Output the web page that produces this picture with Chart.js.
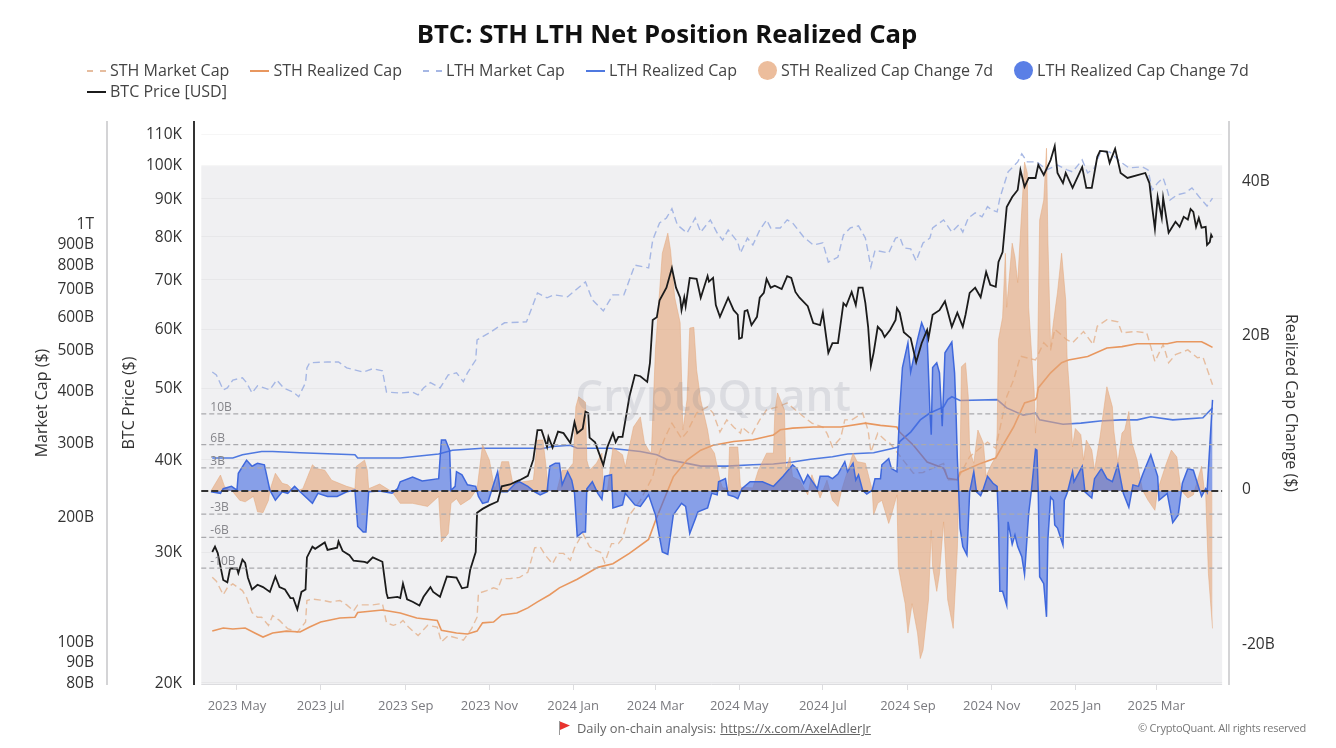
<!DOCTYPE html>
<html>
<head>
<meta charset="utf-8">
<title>BTC: STH LTH Net Position Realized Cap</title>
<script src="https://cdn.jsdelivr.net/npm/chart.js@4"></script>
<style>
  html, body { margin: 0; padding: 0; background: #fff; }
  body { width: 1336px; height: 748px; position: relative; overflow: hidden; font-family: "Open Sans", sans-serif; }
  canvas { position: absolute; left: 0; top: 0; }
  #title { position: absolute; top: 14px; left: 0; width: 1334px; text-align: center; font-size: 25.7px; font-weight: 700; color: #111; line-height: 40px; }
  #legend { position: absolute; left: 87px; top: 60px; width: 1180px; display: flex; flex-wrap: wrap; column-gap: 21px; row-gap: 0; font-size: 16px; color: #444; line-height: 21px; }
  .item { display: flex; align-items: center; white-space: nowrap; }
  .swatch { width: 19px; height: 0; border-top: 2px solid; margin-right: 4px; }
  .dot { width: 19px; height: 19px; border-radius: 50%; margin-right: 4px; }
  #source { position: absolute; top: 718px; left: 558px; font-size: 12.9px; color: #666; line-height: 20px; white-space: nowrap; display: flex; align-items: center; }
  #source a { color: #666; margin-left: 4px; }
  #source svg { margin-right: 7px; }
  #copy { position: absolute; top: 719px; right: 30px; font-size: 11px; color: #777; letter-spacing: -0.25px; line-height: 18px; }
</style>
</head>
<body>
<canvas id="chart" width="1336" height="748"></canvas>
<div id="title">BTC: STH LTH Net Position Realized Cap</div>
<div id="legend"></div>
<div id="source"><svg width="12" height="14" viewBox="0 0 12 14"><path d="M1 0h1v14H1z" fill="#999"/><path d="M2 0.5 12 4.5 2 9z" fill="#e8332e"/></svg>Daily on-chain analysis: <a href="https://x.com/AxelAdlerJr">https://x.com/AxelAdlerJr</a></div>
<div id="copy">© CryptoQuant. All rights reserved</div>
<script>
'use strict';

// x values are days since 2023-05-01
const xTickDays = [0, 61, 123, 184, 245, 305, 366, 427, 489, 550, 611, 670];
const xTickLabels = ['2023 May', '2023 Jul', '2023 Sep', '2023 Nov', '2024 Jan', '2024 Mar', '2024 May', '2024 Jul', '2024 Sep', '2024 Nov', '2025 Jan', '2025 Mar'];

// left axes are in billions and thousands, right axis in billions
const marketTicks = [80, 90, 100, 200, 300, 400, 500, 600, 700, 800, 900, 1000];
const marketTickLabels = ['80B', '90B', '100B', '200B', '300B', '400B', '500B', '600B', '700B', '800B', '900B', '1T'];
const priceTicks = [20, 30, 40, 50, 60, 70, 80, 90, 100, 110];
const priceTickLabels = ['20K', '30K', '40K', '50K', '60K', '70K', '80K', '90K', '100K', '110K'];
const changeTicks = [-20, 0, 20, 40];
const changeTickLabels = ['-20B', '0', '20B', '40B'];

const refLevels = [10, 6, 3, -3, -6, -10];
const refLabels = ['10B', '6B', '3B', '-3B', '-6B', '-10B'];

const priceDays = [-18,-16,-14,-10,-7,-5,0,1,4,6,8,11,15,19,24,28,31,35,39,41,44,47,50,51,55,57,64,66,73,74,77,82,85,93,95,99,106,109,110,117,119,121,124,128,133,136,141,143,148,153,160,164,168,170,174,175,179,184,190,193,199,203,206,212,216,219,222,226,227,230,234,238,243,246,248,252,254,256,257,261,263,267,270,274,276,278,281,284,286,290,294,299,301,303,306,308,313,317,320,323,324,326,327,330,335,338,343,344,347,349,352,358,362,365,366,368,370,372,375,379,381,384,386,389,392,397,401,404,407,410,416,420,425,427,431,434,438,442,444,448,451,453,456,458,460,462,464,467,470,472,476,480,481,483,486,491,495,499,503,504,507,512,516,521,525,529,531,534,538,542,546,549,553,555,558,561,565,569,571,574,577,582,584,588,593,596,598,602,604,609,616,619,623,627,629,634,636,640,644,649,657,662,665,667,669,671,674,675,679,684,687,690,693,695,697,699,701,703,706,707,709,710,711];
const priceValues = [30,30.5,29.9,27.5,27.3,28.5,28.5,28.1,29.3,29,27.7,26.7,27.1,26.9,26.5,27.8,26.9,26.7,26,26,25.1,26.5,26.7,29.5,30.5,30.3,30.9,30.2,30.4,31,30.1,29.7,29.2,29.1,29,29.5,29.1,26.4,26,26.1,26,27.2,25.9,25.7,25.4,26.1,26.9,26.5,26.1,27.8,27.7,26.8,26.9,28.4,30,33.9,34.3,34.7,35.1,36.8,37,37.3,37.5,38,40,43.8,43.8,41.6,42.9,41.5,43.6,43.4,42.1,44.9,43.4,44,46.4,46.2,42.8,42.2,41.2,39.3,41.6,43.4,42.2,42.9,42.9,46.2,48.6,52,51.8,50.9,54,61.7,62.2,65.6,68.2,72.5,68.2,66.1,63.6,66.2,64.4,70.3,70.1,66.1,70.7,69.5,70.3,64.6,62.3,66.1,63.6,62.7,58.2,58.4,63.4,63.6,60.7,62.3,66.1,67.1,70.1,68.2,68.6,67.9,70.7,70.3,67.3,66.1,64.4,61.1,60.7,63.1,55.7,57.4,57.4,65,64.4,67.3,64.6,68.2,68.2,65,60.4,53.5,55.7,60.4,59.6,58.5,59.8,61.7,64,63.1,59.4,58.3,54.1,57.4,59.8,58.3,62.7,63.6,65.4,60.4,63.1,60.4,62.7,67.1,68.2,66.2,71.6,68.8,68.4,73.9,76.2,87.6,90.4,92.4,98.3,93.3,95.9,95.9,99.9,96.8,101.4,105.9,97.4,94.4,97.4,93,99.2,93,93,102.4,104.3,104.1,100.5,105,97.4,95.9,96.8,97.4,94.4,87.6,81.9,90.4,84.7,90.2,80.9,83.7,82.4,85,84.3,87.1,86.3,82.4,84.7,82.2,82.4,77.9,78.6,80.4,79.7];

const lthMarketDays = [-18,-15,-10,-7,-3,4,7,11,15,24,29,34,41,45,50,51,53,66,74,80,92,99,106,109,119,128,132,136,141,148,154,160,165,168,174,175,184,195,211,219,226,231,241,254,259,267,274,282,290,300,303,305,308,313,317,321,328,334,338,345,350,354,358,365,367,372,376,381,386,389,396,401,405,413,420,427,431,438,442,447,453,458,462,465,475,480,483,486,491,495,500,505,507,515,521,526,529,533,538,543,547,550,554,556,562,569,572,576,583,590,598,605,609,616,620,625,629,636,644,650,660,664,667,671,675,678,680,685,691,696,702,707,711];
const lthMarketValues = [440,433,399,403,421,426,415,392,408,399,421,403,394,384,415,450,463,465,465,450,440,448,443,394,392,394,388,403,415,403,433,438,417,438,470,525,546,577,580,680,662,673,666,723,655,616,673,673,793,781,910,946,1000,1028,1082,989,946,1028,951,1017,946,910,962,900,848,920,886,962,1017,973,973,1017,1000,926,886,896,806,829,936,973,984,920,785,860,848,920,926,872,867,811,896,920,973,1017,951,989,951,1028,1057,1034,1094,1075,1063,1147,1325,1400,1463,1400,1400,1340,1376,1340,1325,1415,1317,1355,1471,1479,1400,1355,1362,1340,1198,1247,1282,1198,1134,1167,1180,1213,1147,1098,1147];

const sthMarketDays = [-18,-15,-10,-7,-3,4,7,11,15,18,23,26,31,37,44,50,51,55,63,68,75,80,85,88,99,106,109,114,119,121,125,132,139,146,149,154,165,171,175,176,182,187,190,193,199,206,212,217,221,225,230,234,238,243,246,252,257,261,265,268,273,278,281,286,294,303,306,312,317,324,328,335,343,347,352,357,362,367,368,375,381,386,394,401,407,413,419,427,430,434,440,443,448,456,460,462,467,474,476,493,500,515,518,525,534,547,553,561,566,571,582,588,593,596,605,609,617,624,627,634,642,645,655,663,666,669,675,679,684,693,700,704,708,711];
const sthMarketValues = [142,139,129,134,137,132,127,117,114,114,109,115,112,107,105,111,125,126,125,124,125,122,118,122,122,123,110.5,109,110.5,112,108,103,109,108,99.5,103,100.5,107,114,130,132,134,133,141,141,142,146,167,168,160,153,162,162,156,167,181,168,165,163,154,171,171,176,200,217,247,271,307,332,305,316,351,363,351,316,338,325,314,325,311,338,357,363,371,357,344,332,325,314,291,306,338,338,351,319,283,314,299,297,252,253,266,243,243,276,299,289,384,421,480,470,517,498,557,525,517,550,512,566,587,580,546,550,546,506,466,512,463,484,497,476,478,438,410];

const sthRealizedDays = [-18,-10,-3,6,13,19,26,36,46,53,61,75,86,88,106,119,131,146,149,160,168,175,179,187,193,204,212,219,228,235,248,263,274,286,300,305,312,318,328,338,347,362,376,391,396,405,420,440,458,469,481,483,493,503,515,518,525,527,542,553,559,566,574,582,583,584,593,601,606,620,634,645,656,678,685,703,706,711];
const sthRealizedValues = [105.6,107.4,106.8,107.4,104.5,102.2,104.5,105.6,105.1,108,111,113.5,114,117,118.6,116.7,113.5,112,106,104.5,103.9,105.6,110.5,111,115.4,116.7,120,124,129,134,140.5,150,153,162,175,194,221,247,271,286,294,300,303,311,320,323,325,325,332,328,325,316,294,268,259,245,243,253,266,274,297,325,371,378,384,403,438,463,470,479,502,506,514,514,520,520,514,504];

const lthRealizedDays = [-18,-3,4,18,26,46,86,88,119,147,157,179,216,221,230,243,248,272,294,306,313,328,338,357,376,391,405,418,434,445,464,476,482,483,491,498,505,515,518,521,527,554,561,573,582,585,602,615,629,644,656,666,682,704,711];
const lthRealizedValues = [274,274,279,284,284,282,279,274,274,280,286,289,289,288,292,294,289,289,284,279,272,266,262,262,264,265,268,272,276,280,282,288,291,300,316,338,351,363,378,384,376,378,361,347,351,338,330,332,336,338,338,344,338,342,361];

const sthChangeDays = [-19,-12,-9,-3,2,6,12,15,19,23,24,28,33,37,42,48,55,58,64,69,80,86,87,93,95,96,104,113,119,128,139,147,149,154,156,160,163,170,175,179,184,188,193,198,201,216,219,223,225,227,233,237,241,245,247,249,254,255,257,262,266,267,270,274,281,283,289,294,297,300,302,305,310,314,316,319,323,325,328,330,333,335,338,343,345,348,352,354,358,359,365,367,376,380,386,391,392,394,399,400,403,405,410,416,419,425,430,434,438,441,449,452,458,463,464,467,470,475,477,481,482,485,487,489,492,496,498,500,504,506,507,510,512,515,518,522,525,526,527,528,531,533,534,537,540,544,546,550,553,554,555,558,560,561,565,567,569,571,574,576,577,580,581,582,583,585,588,590,591,593,595,598,601,604,605,607,609,611,615,617,619,623,625,629,634,638,639,642,645,647,650,652,656,658,660,664,669,671,677,681,685,688,693,697,703,705,706,708,711];
const sthChangeValues = [0,2.07,0.56,-0.1,-1.2,-1.4,-0.7,-2.7,-2.8,-1.2,0.1,2.3,1,0.8,-0.1,0.3,3.4,2.9,2.7,1.4,0.6,0.3,3.2,4,2.7,0.3,0.9,-0.1,-1.6,-1.6,-2,-0.7,-6.6,-5.5,-1.6,-1,-1.8,-1,0.3,6,4,0.1,3.8,3.8,1,1.4,6.6,6.6,3.6,0.1,-0.1,2.7,2.7,3.6,10.9,12.2,11.5,4,2.7,3.6,4.9,0.1,0.1,5.6,4.7,3.1,8.3,9.6,6.2,5.3,4.9,18.3,30.8,33.4,31.2,25.1,21.8,7.9,11.8,21.1,21.2,15.7,11.8,7.9,5.7,4.9,1.4,0.4,0.4,5.7,5.7,0.5,0.4,2.7,4.9,4.9,10.1,12.7,10.5,2.7,4.4,1.8,1.4,-0.5,2.1,-0.9,1.4,-1.2,-2,0.3,4.9,3.8,3.6,0.1,-3.1,-1.6,-1.2,-4.2,-3.1,-0.5,-9.8,-12.8,-14.6,-18.4,-14.6,-18.4,-21.7,-20.6,-14.1,-5.1,-9.8,-13,-10.7,-4,-14.1,-17.8,-7.6,-0.1,3.2,16.1,16.6,12.2,5.3,3.6,7.9,6.2,1.9,3.5,4.4,7.5,19.6,22.5,30.8,23.8,32.1,30.3,27,33.4,42.6,41.2,23.8,15.3,13,7.5,10.9,35.1,37.7,44.4,32.5,18.7,21.8,25.7,30.8,24.7,17.4,12.2,5.7,8.1,7.3,4,6.6,5.3,2.7,7,13.5,10.9,7.9,3.6,7.5,7.9,10.3,6.4,4,1.9,0.1,-1.2,-2.5,0.1,3.4,5.3,4.4,0.1,-0.9,-0.5,3.2,0.1,-0.3,-10.7,-17.8];

const lthChangeDays = [-19,-12,-10,-4,0,1,7,11,13,15,20,24,28,33,37,42,46,55,59,66,73,80,86,88,92,94,96,104,113,117,119,128,135,147,149,152,155,156,159,160,164,168,174,176,179,183,190,192,197,203,206,212,217,221,226,228,232,235,237,241,244,246,248,252,254,255,259,263,266,268,273,274,281,283,290,294,300,305,310,314,318,324,327,330,336,343,346,350,351,356,358,362,365,368,374,383,391,398,405,408,413,416,423,425,431,434,438,443,445,449,451,453,456,459,463,465,469,470,475,477,481,483,485,489,491,496,499,503,505,506,507,510,512,514,516,521,523,524,525,526,527,529,532,534,537,539,542,544,547,551,554,555,556,558,561,562,565,567,569,572,574,577,579,582,583,584,585,588,590,591,593,595,596,598,602,603,605,609,610,616,618,623,625,630,634,638,642,646,650,653,657,660,666,671,672,678,682,686,689,693,697,703,706,707,711];
const lthChangeValues = [-0.1,-0.3,0.3,0.6,0.1,2.3,4,3.2,3.4,3.6,3.4,0.1,-1.2,-0.1,-0.3,0.6,-0.1,-1.6,-0.3,-0.7,-0.7,-0.1,0.1,-4.6,-5.3,-5.3,-0.1,0,-0.3,0.3,1.2,1.8,1.3,1.6,6.6,6.6,5.3,0.1,0.6,2.5,2.1,0.8,0.6,-0.7,-1.6,-1.4,2.5,-0.1,-0.1,1,1.2,0.6,-0.1,-0.5,-0.1,3.2,3.6,3.6,0.8,2.5,1.4,-0.3,-5.9,-5.3,-5.3,0.3,1.2,-0.3,-1.1,1.9,2.1,-2.2,-1.8,-0.3,-1.8,-2,-0.5,-3.1,-7.9,-8.2,-3.1,-1.6,-2,-5.5,-2.7,-2.2,-0.3,-0.5,1.2,1.6,-0.5,-0.7,-1,0.3,1.2,1.2,0.6,1.9,3.4,2.9,1,2.1,0.3,1.9,1.9,1.6,2.2,3.8,2.5,3.6,1.4,2.1,0.1,-0.4,0.1,1.6,1.6,3.4,4.2,2.9,2.5,10.5,16,19.2,15.4,19.6,21.8,20,10.5,7.3,16,16.6,15.3,8.4,17.9,19.3,15.3,10.5,4.3,0.1,-4.8,-7.2,-8.3,-0.1,2.5,-0.1,-0.6,0.3,1.9,1,0.6,-4,-13,-13,-14.8,-4,-6.9,-5.7,-7.2,-8.5,-10.8,-2.9,0.1,5.4,5.3,-0.3,-11.1,-12,-16.3,-6.3,-0.8,-1.2,-4.4,-4.8,-7,-1.2,-0.3,2.5,1.2,3.2,-0.1,-0.9,1.6,2.9,1.6,1.2,3.4,-0.3,-2.1,0.8,0.6,2.1,4.7,1.9,-1.2,-0.3,-4.1,-3.1,1,2.9,2.7,-0.7,0.3,-0.1,11.8,18.7];

const legendNames = ['STH Market Cap', 'STH Realized Cap', 'LTH Market Cap', 'LTH Realized Cap', 'STH Realized Cap Change 7d', 'LTH Realized Cap Change 7d', 'BTC Price [USD]'];

const colSthMarket = '#e6bd9f';
const colSthRealized = '#e8975f';
const colLthMarket = '#a6b7e4';
const colLthRealized = '#4f79e0';
const colSthFill = 'rgba(228, 165, 120, 0.6)';
const colLthFill = 'rgba(65, 105, 225, 0.6)';

function zip(xs, ys) {
    return xs.map((x, i) => ({ x: x, y: ys[i] }));
}

// grey panel behind the data, faint price gridlines, bottom rule
const panelStartDay = -26;
const panelEndDay = 718;
const panelTopPrice = 99.5;
const watermarkDay = 347;

const panelPlugin = {
    id: 'panel',
    beforeDatasetsDraw(chart) {
        const ctx = chart.ctx;
        const x0 = chart.scales.x.getPixelForValue(panelStartDay);
        const x1 = chart.scales.x.getPixelForValue(panelEndDay);
        const top = chart.scales.yPrice.getPixelForValue(panelTopPrice);
        const bottom = chart.chartArea.bottom;
        ctx.save();
        ctx.fillStyle = '#f0f0f2';
        ctx.fillRect(x0, top, x1 - x0, bottom - top);
        ctx.strokeStyle = 'rgba(0, 0, 0, 0.035)';
        ctx.lineWidth = 1;
        priceTicks.forEach((v) => {
            const y = Math.round(chart.scales.yPrice.getPixelForValue(v)) + 0.5;
            ctx.beginPath();
            ctx.moveTo(x0, y);
            ctx.lineTo(x1, y);
            ctx.stroke();
        });
        ctx.strokeStyle = '#dcdcdf';
        ctx.beginPath();
        ctx.moveTo(x0, bottom + 0.5);
        ctx.lineTo(x1, bottom + 0.5);
        ctx.stroke();
        ctx.restore();
    },
    afterDatasetsDraw(chart) {
        const ctx = chart.ctx;
        const yScale = chart.scales.yChange;
        const x0 = chart.scales.x.getPixelForValue(panelStartDay);
        const x1 = chart.scales.x.getPixelForValue(panelEndDay);
        ctx.save();
        // watermark
        ctx.font = '600 44px "Open Sans"';
        ctx.fillStyle = 'rgba(120, 125, 140, 0.17)';
        ctx.textAlign = 'center';
        ctx.textBaseline = 'middle';
        ctx.fillText('CryptoQuant', chart.scales.x.getPixelForValue(watermarkDay), yScale.getPixelForValue(12));
        // threshold lines
        ctx.font = '12px "Open Sans"';
        ctx.textAlign = 'left';
        ctx.textBaseline = 'alphabetic';
        refLevels.forEach((v, i) => {
            const y = yScale.getPixelForValue(v);
            ctx.strokeStyle = '#a9a9ad';
            ctx.lineWidth = 1.2;
            ctx.setLineDash([5, 3]);
            ctx.beginPath();
            ctx.moveTo(x0, y);
            ctx.lineTo(x1, y);
            ctx.stroke();
            ctx.fillStyle = '#85858a';
            ctx.fillText(refLabels[i], x0 + 9, y - 3);
        });
        // zero line
        const zero = yScale.getPixelForValue(0);
        ctx.strokeStyle = '#333';
        ctx.lineWidth = 2;
        ctx.setLineDash([7, 3]);
        ctx.beginPath();
        ctx.moveTo(x0, zero);
        ctx.lineTo(x1, zero);
        ctx.stroke();
        ctx.restore();
    }
};

function fixWidth(px) {
    return (scale) => { scale.width = px; };
}

function useTicks(values) {
    return (scale) => { scale.ticks = values.map((v) => ({ value: v })); };
}

const yTickFont = { family: '"Open Sans"', size: 15.5 };
const yTitleFont = { family: '"Open Sans"', size: 16 };

new Chart(document.getElementById('chart'), {
    type: 'line',
    data: {
        datasets: [
            { label: legendNames[6], data: zip(priceDays, priceValues), yAxisID: 'yPrice', borderColor: '#1b1b1b', borderWidth: 1.8, pointRadius: 0, tension: 0, order: 1 },
            { label: legendNames[5], data: zip(lthChangeDays, lthChangeValues), yAxisID: 'yChange', borderColor: '#3f68dc', backgroundColor: colLthFill, borderWidth: 1.5, pointRadius: 0, tension: 0, fill: 'origin', order: 2 },
            { label: legendNames[4], data: zip(sthChangeDays, sthChangeValues), yAxisID: 'yChange', borderColor: 'rgba(228, 165, 120, 0.5)', backgroundColor: colSthFill, borderWidth: 1, pointRadius: 0, tension: 0, fill: 'origin', order: 3 },
            { label: legendNames[1], data: zip(sthRealizedDays, sthRealizedValues), yAxisID: 'yMarket', borderColor: colSthRealized, borderWidth: 1.6, pointRadius: 0, tension: 0, order: 4 },
            { label: legendNames[3], data: zip(lthRealizedDays, lthRealizedValues), yAxisID: 'yMarket', borderColor: colLthRealized, borderWidth: 1.6, pointRadius: 0, tension: 0, order: 5 },
            { label: legendNames[0], data: zip(sthMarketDays, sthMarketValues), yAxisID: 'yMarket', borderColor: colSthMarket, borderWidth: 1.4, borderDash: [7, 4], pointRadius: 0, tension: 0, order: 6 },
            { label: legendNames[2], data: zip(lthMarketDays, lthMarketValues), yAxisID: 'yMarket', borderColor: colLthMarket, borderWidth: 1.4, borderDash: [7, 4], pointRadius: 0, tension: 0, order: 7 }
        ]
    },
    options: {
        responsive: false,
        animation: false,
        layout: { padding: { top: 122, left: 0, right: 0, bottom: 0 } },
        plugins: { legend: { display: false }, title: { display: false }, tooltip: { enabled: false } },
        scales: {
            x: {
                type: 'linear',
                min: -31.3,
                max: 723,
                afterBuildTicks: useTicks(xTickDays),
                afterFit: (scale) => { scale.height = 64; },
                border: { display: false },
                grid: { drawOnChartArea: false, color: '#dcdcdf', tickLength: 6 },
                ticks: { autoSkip: false, maxRotation: 0, color: '#7a7a7f', font: { family: '"Open Sans"', size: 13 }, padding: 8, callback: (v, i) => xTickLabels[i] }
            },
            yMarket: {
                type: 'logarithmic',
                position: 'left',
                weight: 2,
                min: 78.9,
                max: 1744,
                afterBuildTicks: useTicks(marketTicks),
                afterFit: fixWidth(107),
                border: { color: '#d4d4d6', width: 2 },
                grid: { drawOnChartArea: false, drawTicks: false },
                ticks: { autoSkip: false, color: '#333', font: yTickFont, padding: 13, labelOffset: 2, callback: (v, i) => marketTickLabels[i] },
                title: { display: true, text: 'Market Cap ($)', color: '#333', font: yTitleFont, padding: { top: 32.5, bottom: 0 } }
            },
            yPrice: {
                type: 'logarithmic',
                position: 'left',
                weight: 1,
                min: 19.907,
                max: 114.12,
                afterBuildTicks: useTicks(priceTicks),
                afterFit: fixWidth(87),
                border: { color: '#333', width: 2 },
                grid: { drawOnChartArea: false, drawTicks: false },
                ticks: { autoSkip: false, color: '#333', font: yTickFont, padding: 12, labelOffset: 1, callback: (v, i) => priceTickLabels[i] },
                title: { display: true, text: 'BTC Price ($)', color: '#333', font: yTitleFont, padding: { top: 12.5, bottom: 0 } }
            },
            yChange: {
                type: 'linear',
                position: 'right',
                min: -25,
                max: 47.8,
                afterBuildTicks: useTicks(changeTicks),
                afterFit: fixWidth(107),
                border: { color: '#d4d4d6', width: 2 },
                grid: { drawOnChartArea: false, drawTicks: false },
                ticks: { autoSkip: false, color: '#333', font: yTickFont, padding: 13, labelOffset: -1, callback: (v, i) => changeTickLabels[i] },
                title: { display: true, text: 'Realized Cap Change ($)', color: '#333', font: yTitleFont, padding: { top: 35.5, bottom: 0 } }
            }
        }
    },
    plugins: [panelPlugin]
});

// legend entries, dashed or solid line or a round swatch
const legendStyles = [
    { color: colSthMarket, dash: true },
    { color: colSthRealized },
    { color: colLthMarket, dash: true },
    { color: colLthRealized },
    { color: '#ecbd9c', dot: true },
    { color: '#5a7fe6', dot: true },
    { color: '#1b1b1b' }
];
const legendBox = document.getElementById('legend');
legendNames.forEach((name, i) => {
    const style = legendStyles[i];
    const item = document.createElement('div');
    item.className = 'item';
    const mark = document.createElement('span');
    mark.className = style.dot ? 'dot' : 'swatch';
    if (style.dot) {
        mark.style.background = style.color;
    } else {
        mark.style.borderTop = '2px ' + (style.dash ? 'dashed ' : 'solid ') + style.color;
    }
    const text = document.createElement('span');
    text.textContent = name;
    item.appendChild(mark);
    item.appendChild(text);
    legendBox.appendChild(item);
});
</script>
</body>
</html>
